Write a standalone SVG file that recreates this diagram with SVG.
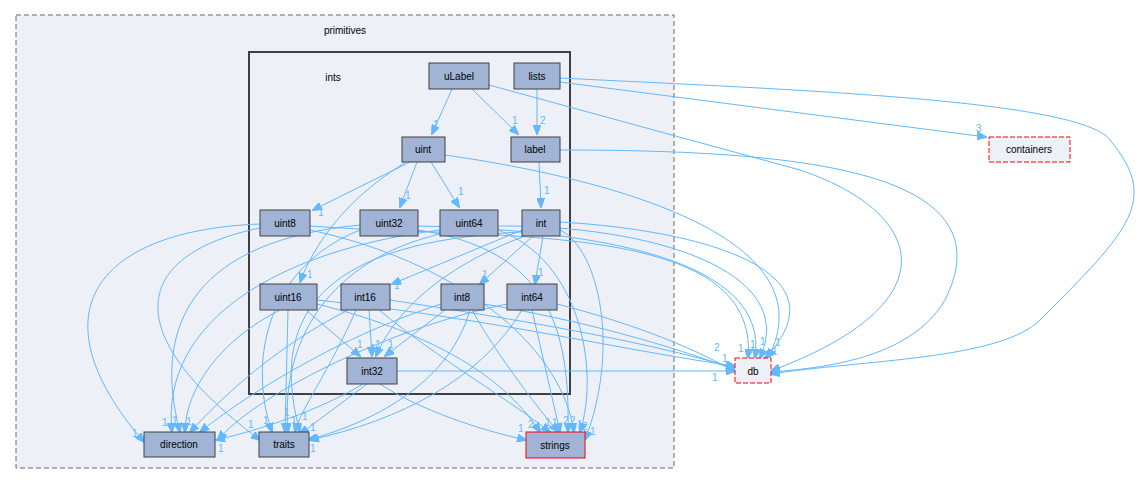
<svg xmlns="http://www.w3.org/2000/svg" width="1143" height="484" viewBox="0 0 1143 484">
<defs>
<marker id="a" markerWidth="10" markerHeight="8" refX="9" refY="4" orient="auto" markerUnits="userSpaceOnUse"><path d="M0,0 L10,4 L0,8 z" fill="#63b8ff" stroke="#63b8ff"/></marker>
<style>
text{font-family:"Liberation Sans",Arial,sans-serif;font-size:10px;fill:#000}
.n rect{fill:#a2b4d6;stroke:#404040;stroke-width:1}
.x rect{fill:#edf0f7;stroke:#ff0000;stroke-dasharray:5,2}
.e path{fill:none;stroke:#63b8ff;stroke-width:1;marker-end:url(#a)}
.e text{fill:#63b8ff;font-size:10px}
</style>
</defs>
<rect width="1143" height="484" fill="#ffffff"/>
<g id="primitives"><rect x="16" y="15" width="658" height="453" fill="#edf0f7" stroke="#666" stroke-dasharray="5,3"/><text x="345" y="34" text-anchor="middle">primitives</text></g>
<g id="ints"><rect x="249" y="52" width="321" height="342" fill="#edf0f7" stroke="#404040" stroke-width="2"/><text x="333" y="81" text-anchor="middle">ints</text></g>
<g class="e" id="edges">
<path d="M452,89 L432,134"/><text x="433" y="128">1</text>
<path d="M472,89 L518,134"/><text x="512" y="124">1</text>
<path d="M537,89 L537,134"/><text x="540" y="124">2</text>
<path d="M560,82 L986,137"/><text x="976" y="132">3</text>
<path d="M489,85 L800,170 C920,210 960,300 771,371"/>
<path d="M560,78 C800,90 1080,100 1110,140 C1160,200 1130,230 1040,320 C1000,360 860,360 771,374"/>
<path d="M560,150 C800,150 1010,170 945,300 C910,360 820,368 771,372"/>
<path d="M539,162 L541,207"/><text x="544" y="194">1</text>
<path d="M410,162 L313,210"/><text x="318" y="216">1</text>
<path d="M417,162 L400,207"/><text x="405" y="199">1</text>
<path d="M431,162 L459,207"/><text x="458" y="195">1</text>
<path d="M406,162 C360,190 320,230 300,282"/><text x="307" y="278">1</text>
<path d="M445,155 C620,180 830,240 768,358"/><text x="772" y="355">1</text>
<path d="M522,230 L392,284"/><text x="394" y="289">1</text>
<path d="M533,236 L480,284"/><text x="482" y="278">1</text>
<path d="M543,236 L535,284"/><text x="538" y="276">1</text>
<path d="M525,236 C460,260 400,300 376,356"/><text x="370" y="352">1</text>
<path d="M560,222 C700,230 850,270 765,358"/><text x="775" y="346">1</text>
<path d="M560,230 C600,250 620,350 585,440"/><text x="590" y="435">1</text>
<path d="M522,232 C360,240 260,290 300,432"/>
<path d="M260,224 C100,230 30,310 144,442"/><text x="132" y="437">1</text>
<path d="M260,228 C150,250 100,320 260,440"/><text x="248" y="428">1</text>
<path d="M310,230 C450,260 560,340 574,432"/><text x="577" y="428">1</text>
<path d="M310,226 C500,240 760,220 748,358"/><text x="738" y="352">1</text>
<path d="M360,225 C200,240 150,320 180,432"/><text x="172" y="424">1</text>
<path d="M360,230 C260,270 250,370 272,432"/><text x="263" y="424">1</text>
<path d="M418,230 C550,250 570,330 568,432"/><text x="570" y="424">2</text>
<path d="M418,226 C600,230 770,260 755,358"/><text x="750" y="348">1</text>
<path d="M440,230 C280,250 160,320 172,432"/><text x="162" y="426">1</text>
<path d="M440,234 C330,260 280,340 288,432"/><text x="291" y="424">1</text>
<path d="M498,230 C580,260 600,370 580,432"/><text x="582" y="430">2</text>
<path d="M498,226 C650,225 800,270 760,358"/><text x="760" y="345">1</text>
<path d="M288,310 L285,432"/><text x="284" y="416">1</text>
<path d="M306,310 L360,356"/><text x="357" y="348">1</text>
<path d="M280,310 C220,340 185,390 185,432"/><text x="186" y="425">1</text>
<path d="M317,304 C420,330 500,370 540,432"/><text x="528" y="428">2</text>
<path d="M317,300 C500,320 620,350 735,366"/><text x="714" y="351">2</text>
<path d="M369,310 L372,356"/><text x="375" y="348">1</text>
<path d="M356,310 C330,370 300,410 295,432"/><text x="302" y="420">1</text>
<path d="M348,310 C270,350 220,400 190,432"/>
<path d="M379,310 C440,360 510,400 550,432"/><text x="545" y="426">1</text>
<path d="M390,300 C520,320 640,340 735,368"/><text x="722" y="362">1</text>
<path d="M445,310 L385,356"/><text x="388" y="348">1</text>
<path d="M441,304 C330,340 240,400 200,432"/>
<path d="M470,310 C450,380 380,420 308,440"/><text x="310" y="452">1</text>
<path d="M472,310 C500,360 540,410 558,432"/><text x="552" y="426">1</text>
<path d="M484,304 C580,320 670,345 735,370"/>
<path d="M507,304 C380,330 250,400 218,440"/>
<path d="M522,310 C480,380 400,420 310,440"/>
<path d="M532,310 L560,432"/><text x="563" y="424">2</text>
<path d="M557,304 C620,320 690,345 735,372"/>
<path d="M363,384 C320,410 260,430 216,440"/><text x="218" y="452">1</text>
<path d="M367,384 L300,434"/><text x="310" y="431">1</text>
<path d="M380,384 C420,410 480,430 526,440"/><text x="518" y="432">1</text>
<path d="M397,371 L735,371"/><text x="712" y="381">1</text>
</g>
<g id="uLabel" class="n"><rect x="429" y="63" width="60" height="26"/><text x="459" y="80" text-anchor="middle">uLabel</text></g>
<g id="lists" class="n"><rect x="514" y="63" width="46" height="26"/><text x="537" y="80" text-anchor="middle">lists</text></g>
<g id="uint" class="n"><rect x="402" y="137" width="43" height="25"/><text x="423" y="153" text-anchor="middle">uint</text></g>
<g id="label" class="n"><rect x="511" y="137" width="49" height="25"/><text x="535" y="153" text-anchor="middle">label</text></g>
<g id="uint8" class="n"><rect x="260" y="210" width="50" height="26"/><text x="285" y="227" text-anchor="middle">uint8</text></g>
<g id="uint32" class="n"><rect x="360" y="210" width="58" height="26"/><text x="389" y="227" text-anchor="middle">uint32</text></g>
<g id="uint64" class="n"><rect x="440" y="210" width="58" height="26"/><text x="469" y="227" text-anchor="middle">uint64</text></g>
<g id="int" class="n"><rect x="522" y="210" width="38" height="26"/><text x="541" y="227" text-anchor="middle">int</text></g>
<g id="uint16" class="n"><rect x="260" y="284" width="57" height="26"/><text x="288" y="301" text-anchor="middle">uint16</text></g>
<g id="int16" class="n"><rect x="341" y="284" width="49" height="26"/><text x="365" y="301" text-anchor="middle">int16</text></g>
<g id="int8" class="n"><rect x="441" y="284" width="43" height="26"/><text x="462" y="301" text-anchor="middle">int8</text></g>
<g id="int64" class="n"><rect x="507" y="284" width="50" height="26"/><text x="532" y="301" text-anchor="middle">int64</text></g>
<g id="int32" class="n"><rect x="347" y="358" width="50" height="26"/><text x="372" y="375" text-anchor="middle">int32</text></g>
<g id="direction" class="n"><rect x="144" y="432" width="71" height="25"/><text x="179" y="448" text-anchor="middle">direction</text></g>
<g id="traits" class="n"><rect x="259" y="432" width="50" height="25"/><text x="284" y="448" text-anchor="middle">traits</text></g>
<g id="strings" class="n"><rect x="526" y="432" width="59" height="26" style="stroke:#ff0000"/><text x="555" y="449" text-anchor="middle">strings</text></g>
<g id="db" class="x"><rect x="735" y="358" width="36" height="25"/><text x="753" y="375" text-anchor="middle">db</text></g>
<g id="containers" class="x"><rect x="989" y="137" width="81" height="25"/><text x="1029" y="153" text-anchor="middle">containers</text></g>
</svg>
